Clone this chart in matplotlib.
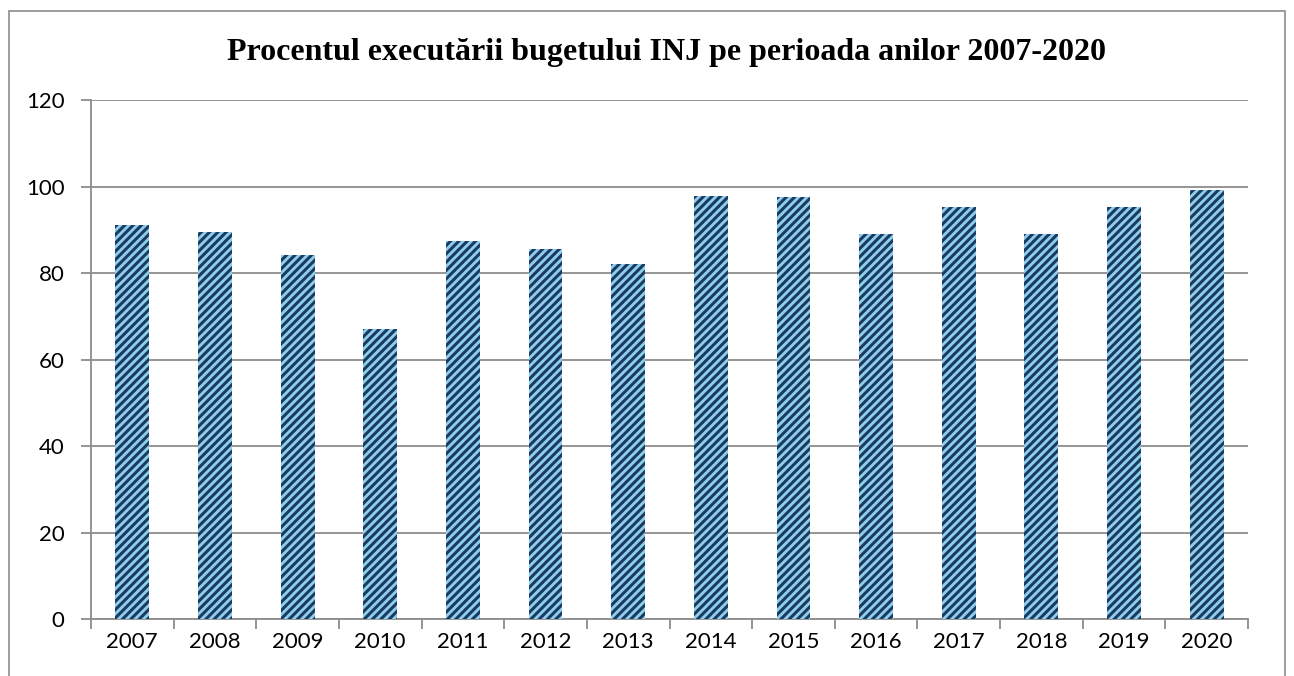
import numpy as np
import matplotlib
matplotlib.use('Agg')
import matplotlib.pyplot as plt
from matplotlib.patches import Rectangle

years = ['2007', '2008', '2009', '2010', '2011', '2012', '2013',
         '2014', '2015', '2016', '2017', '2018', '2019', '2020']
percent = [91.0, 89.4, 84.2, 67.0, 87.4, 85.5, 82.2,
           97.8, 97.6, 89.1, 95.2, 89.0, 95.2, 99.2]

plt.rcParams['hatch.linewidth'] = 2.2

fig = plt.figure(figsize=(12.94, 6.76), dpi=100)
ax = fig.add_axes([0.0703, 0.0843, 0.8942, 0.7677])

# outer frame of the chart area
fig.patches.append(Rectangle((0.007, -0.01), 0.986, 0.994, transform=fig.transFigure,
                             fill=False, edgecolor='#8c8c8c', linewidth=1.2))

x = np.arange(len(years))
ax.bar(x, percent, width=0.41, facecolor='#8fd0e8', edgecolor='#1b3a66',
       linewidth=0, hatch='////', zorder=3)

ax.set_ylim(0, 120)
ax.set_xlim(-0.5, len(years) - 0.5)
ax.set_yticks(np.arange(0, 121, 20))
ax.yaxis.grid(True, color='#8c8c8c', linewidth=1.3, zorder=0)
ax.set_axisbelow(True)

ax.set_xticks(x)
ax.set_xticklabels(years)
ax.set_xticks(np.arange(-0.5, len(years)), minor=True)
ax.tick_params(axis='x', which='major', length=0, pad=9, labelsize=16)
ax.tick_params(axis='x', which='minor', length=7, width=1.3, color='#8c8c8c')
ax.tick_params(axis='y', length=7, width=1.3, color='#8c8c8c', pad=12, labelsize=16)
for lbl in ax.get_xticklabels() + ax.get_yticklabels():
    lbl.set_fontfamily('Lato')

for s in ['top', 'right']:
    ax.spines[s].set_visible(False)
for s in ['left', 'bottom']:
    ax.spines[s].set_color('#8c8c8c')
    ax.spines[s].set_linewidth(1.3)

fig.text(0.515, 0.922, 'Procentul executării bugetului INJ pe perioada anilor 2007-2020',
         ha='center', va='center', fontsize=23, fontweight='bold',
         family='Liberation Serif')

fig.savefig('out.png', dpi=100)
